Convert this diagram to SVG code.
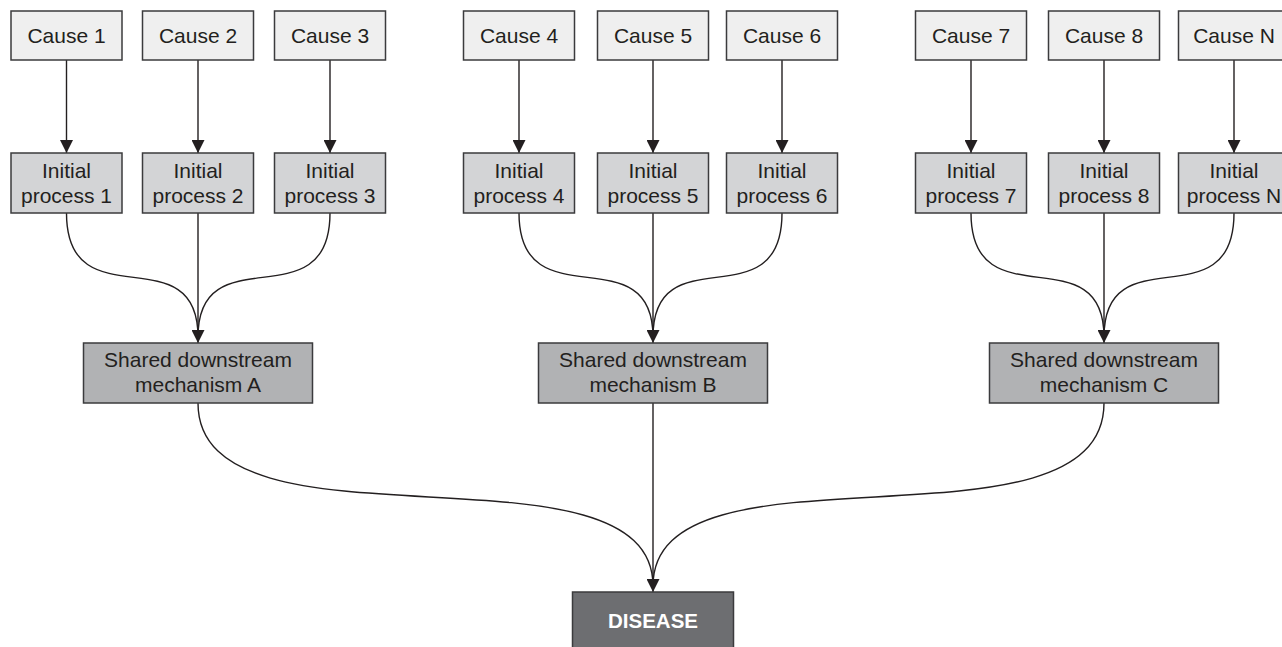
<svg xmlns="http://www.w3.org/2000/svg" width="1282" height="647" viewBox="0 0 1282 647">
<style>
  .box{stroke:#3b3b3d;stroke-width:1.5}
  .cause{fill:#efefef}
  .init{fill:#d3d4d6}
  .shared{fill:#b1b2b4}
  .disease{fill:#6d6e71}
  text{font-family:"Liberation Sans",Arial,sans-serif;font-size:21px;fill:#231f20;text-anchor:middle}
  .dt{font-weight:bold;fill:#ffffff;font-size:20.5px}
  .ln{fill:none;stroke:#231f20;stroke-width:1.4}
</style>
<defs>
  <marker id="ah" markerUnits="userSpaceOnUse" markerWidth="14" markerHeight="13" refX="12" refY="6" orient="auto" viewBox="0 0 12 12">
    <path d="M0,0 L12,6 L0,12 Z" fill="#231f20"/>
  </marker>
</defs>
<rect width="1282" height="647" fill="#ffffff"/>

<g id="connectors">
  <!-- cause to initial -->
  <path class="ln" d="M66.5,60 V153" marker-end="url(#ah)"/>
  <path class="ln" d="M198,60 V153" marker-end="url(#ah)"/>
  <path class="ln" d="M330,60 V153" marker-end="url(#ah)"/>
  <path class="ln" d="M519,60 V153" marker-end="url(#ah)"/>
  <path class="ln" d="M653,60 V153" marker-end="url(#ah)"/>
  <path class="ln" d="M782,60 V153" marker-end="url(#ah)"/>
  <path class="ln" d="M971,60 V153" marker-end="url(#ah)"/>
  <path class="ln" d="M1104,60 V153" marker-end="url(#ah)"/>
  <path class="ln" d="M1234,60 V153" marker-end="url(#ah)"/>
  <!-- initial to shared A -->
  <path class="ln" d="M66.5,213 C66.5,323 198,233 198,337"/>
  <path class="ln" d="M330,213 C330,323 198,233 198,337"/>
  <path class="ln" d="M198,213 V343" marker-end="url(#ah)"/>
  <!-- initial to shared B -->
  <path class="ln" d="M519,213 C519,323 653,233 653,337"/>
  <path class="ln" d="M782,213 C782,323 653,233 653,337"/>
  <path class="ln" d="M653,213 V343" marker-end="url(#ah)"/>
  <!-- initial to shared C -->
  <path class="ln" d="M971,213 C971,323 1104,233 1104,337"/>
  <path class="ln" d="M1234,213 C1234,323 1104,233 1104,337"/>
  <path class="ln" d="M1104,213 V343" marker-end="url(#ah)"/>
  <!-- shared to disease -->
  <path class="ln" d="M198,403 C198,564 653,431 653,586"/>
  <path class="ln" d="M1104,403 C1104,564 653,431 653,586"/>
  <path class="ln" d="M653,403 V592" marker-end="url(#ah)"/>
</g>

<g id="cause1"><rect class="box cause" x="11" y="11" width="111" height="49"/><text x="66.5" y="43">Cause 1</text></g>
<g id="cause2"><rect class="box cause" x="142.5" y="11" width="111" height="49"/><text x="198" y="43">Cause 2</text></g>
<g id="cause3"><rect class="box cause" x="274.5" y="11" width="111" height="49"/><text x="330" y="43">Cause 3</text></g>
<g id="cause4"><rect class="box cause" x="463.5" y="11" width="111" height="49"/><text x="519" y="43">Cause 4</text></g>
<g id="cause5"><rect class="box cause" x="597.5" y="11" width="111" height="49"/><text x="653" y="43">Cause 5</text></g>
<g id="cause6"><rect class="box cause" x="726.5" y="11" width="111" height="49"/><text x="782" y="43">Cause 6</text></g>
<g id="cause7"><rect class="box cause" x="915.5" y="11" width="111" height="49"/><text x="971" y="43">Cause 7</text></g>
<g id="cause8"><rect class="box cause" x="1048.5" y="11" width="111" height="49"/><text x="1104" y="43">Cause 8</text></g>
<g id="causeN"><rect class="box cause" x="1178.5" y="11" width="111" height="49"/><text x="1234" y="43">Cause N</text></g>

<g id="init1"><rect class="box init" x="11" y="153" width="111" height="60"/><text x="66.5" y="178">Initial</text><text x="66.5" y="203">process 1</text></g>
<g id="init2"><rect class="box init" x="142.5" y="153" width="111" height="60"/><text x="198" y="178">Initial</text><text x="198" y="203">process 2</text></g>
<g id="init3"><rect class="box init" x="274.5" y="153" width="111" height="60"/><text x="330" y="178">Initial</text><text x="330" y="203">process 3</text></g>
<g id="init4"><rect class="box init" x="463.5" y="153" width="111" height="60"/><text x="519" y="178">Initial</text><text x="519" y="203">process 4</text></g>
<g id="init5"><rect class="box init" x="597.5" y="153" width="111" height="60"/><text x="653" y="178">Initial</text><text x="653" y="203">process 5</text></g>
<g id="init6"><rect class="box init" x="726.5" y="153" width="111" height="60"/><text x="782" y="178">Initial</text><text x="782" y="203">process 6</text></g>
<g id="init7"><rect class="box init" x="915.5" y="153" width="111" height="60"/><text x="971" y="178">Initial</text><text x="971" y="203">process 7</text></g>
<g id="init8"><rect class="box init" x="1048.5" y="153" width="111" height="60"/><text x="1104" y="178">Initial</text><text x="1104" y="203">process 8</text></g>
<g id="initN"><rect class="box init" x="1178.5" y="153" width="111" height="60"/><text x="1234" y="178">Initial</text><text x="1234" y="203">process N</text></g>

<g id="sharedA"><rect class="box shared" x="83.5" y="343" width="229" height="60"/><text x="198" y="367">Shared downstream</text><text x="198" y="392">mechanism A</text></g>
<g id="sharedB"><rect class="box shared" x="538.5" y="343" width="229" height="60"/><text x="653" y="367">Shared downstream</text><text x="653" y="392">mechanism B</text></g>
<g id="sharedC"><rect class="box shared" x="989.5" y="343" width="229" height="60"/><text x="1104" y="367">Shared downstream</text><text x="1104" y="392">mechanism C</text></g>

<g id="disease"><rect class="box disease" x="572.5" y="592" width="161" height="62"/><text class="dt" x="653" y="628">DISEASE</text></g>
</svg>
